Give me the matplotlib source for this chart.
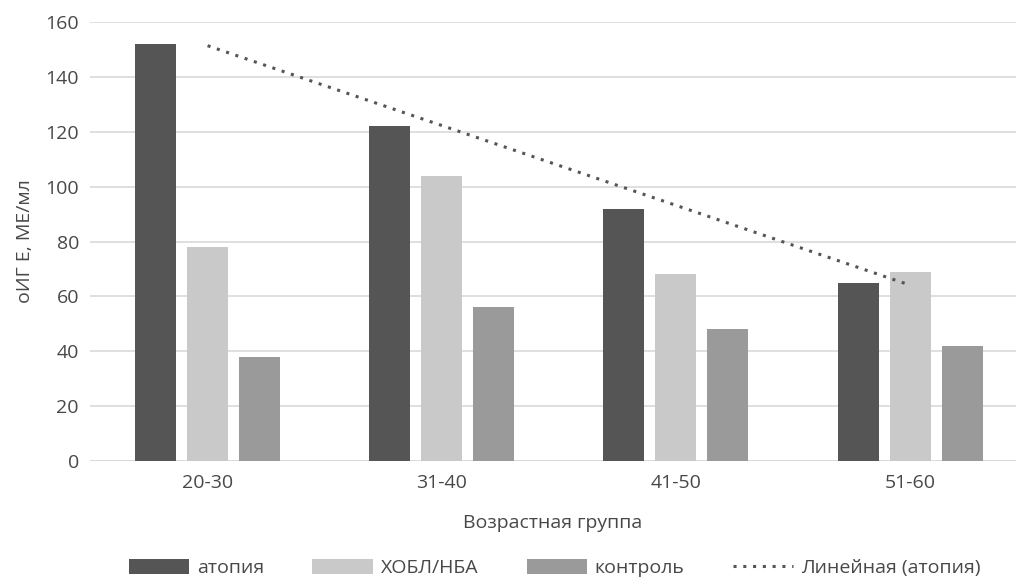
import matplotlib
matplotlib.use("Agg")
import matplotlib.pyplot as plt
import numpy as np

plt.rcParams['font.family'] = ['Open Sans', 'DejaVu Sans']

# Data
groups = ["20-30", "31-40", "41-50", "51-60"]
atopy = [152, 122, 92, 65]
copd = [78, 104, 68, 69]
control = [38, 56, 48, 42]
series_names = ["атопия", "ХОБЛ/НБА", "контроль"]
trend_name = "Линейная (атопия)"

text_color = "#484848"
colors = ["#555555", "#c9c9c9", "#9a9a9a"]

fig = plt.figure(figsize=(10.16, 5.81), dpi=100)
ax = fig.add_axes([0.0886, 0.2065, 0.9114, 0.7555])

x = np.arange(len(groups))
width = 0.175
step = 0.222
for i, (vals, name) in enumerate(zip([atopy, copd, control], series_names)):
    ax.bar(x + (i - 1) * step, vals, width, color=colors[i], label=name, zorder=3)

# linear trend of atopy
k, b = np.polyfit(x, atopy, 1)
ax.plot(x, k * x + b, linestyle=(0, (1, 2.2)), color="#555555", linewidth=2.2,
        label=trend_name, zorder=4)

ax.set_ylim(0, 160)
ax.set_yticks(np.arange(0, 161, 20))
ax.set_xlim(-0.502, 3.452)
ax.set_xticks(x)
ax.set_xticklabels(groups)
ax.grid(axis="y", color="#d9d9d9", linewidth=1.2, zorder=0)
for s in ax.spines.values():
    s.set_visible(False)
ax.tick_params(length=0, labelsize=14, colors=text_color, pad=8)
ax.tick_params(axis="x", pad=9)
ax.axhline(0, color="#d9d9d9", linewidth=1.2, zorder=2)

ax.set_ylabel("оИГ Е, МЕ/мл", fontsize=14, color=text_color, labelpad=8)
ax.set_xlabel("Возрастная группа", fontsize=14, color=text_color, labelpad=16)

handles, labels = ax.get_legend_handles_labels()
order = [1, 2, 3, 0]
fig.legend([handles[i] for i in order], [labels[i] for i in order],
           loc="center", bbox_to_anchor=(0.546, 0.022), ncol=4, frameon=False,
           fontsize=14, labelcolor=text_color, handlelength=3.1, handleheight=0.75,
           handletextpad=0.4, columnspacing=2.5)

plt.savefig("out.png", dpi=100)
plt.close()
